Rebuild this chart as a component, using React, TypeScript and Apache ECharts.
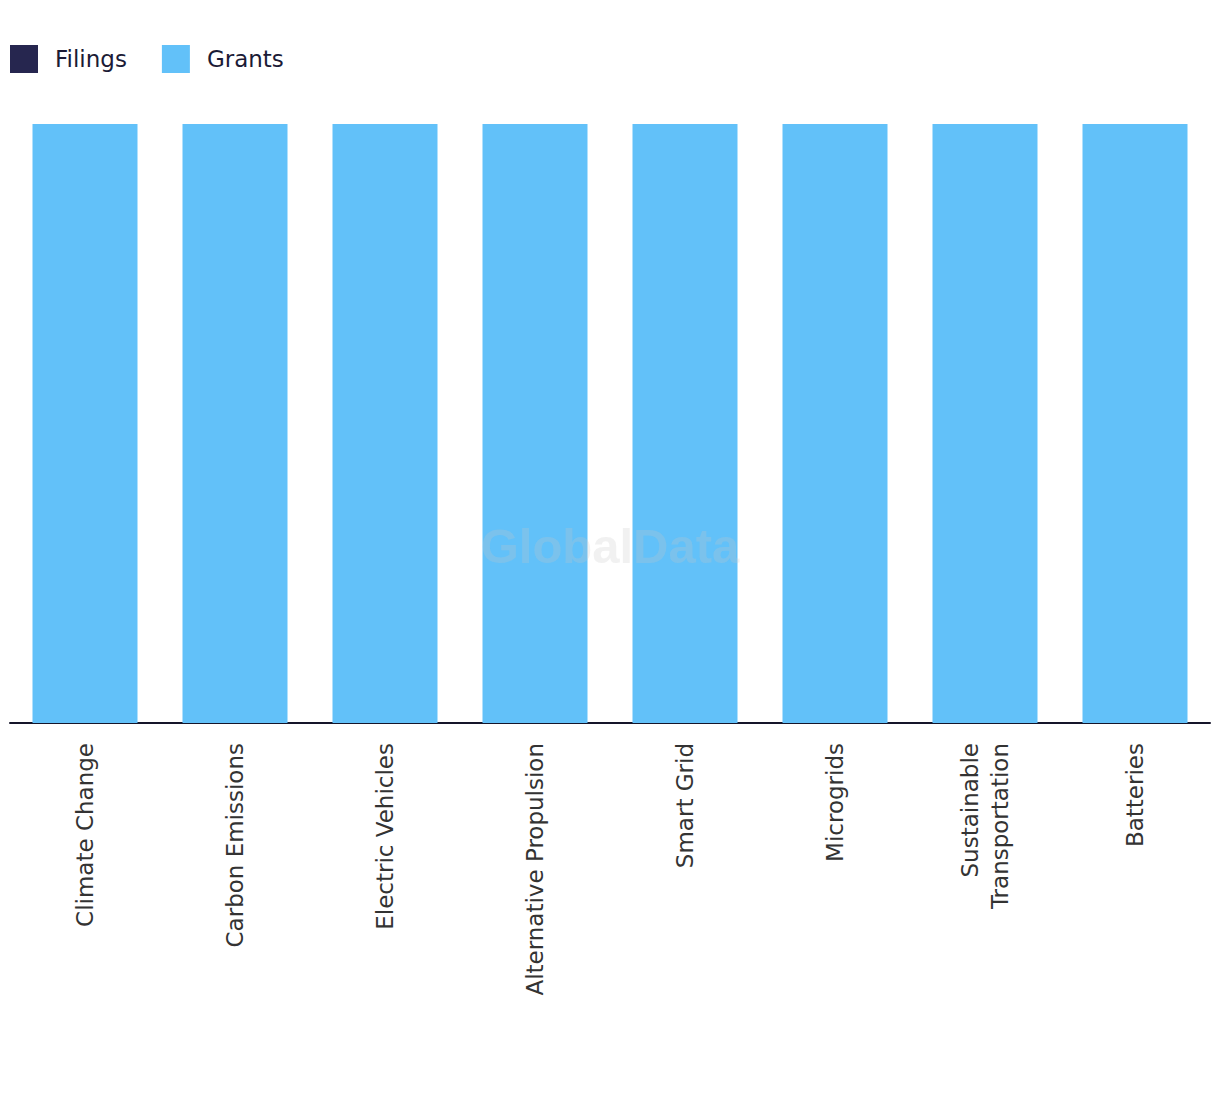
import React, { useEffect, useRef } from "react";
import * as echarts from "echarts";

const categories = [
  "Climate Change",
  "Carbon Emissions",
  "Electric Vehicles",
  "Alternative Propulsion",
  "Smart Grid",
  "Microgrids",
  "Sustainable\nTransportation",
  "Batteries",
];
const filings = [0, 0, 0, 0, 0, 0, 0, 0];
const grants = [100, 100, 100, 100, 100, 100, 100, 100];

const FONT = "DejaVu Sans";

export default function App() {
  const ref = useRef<HTMLDivElement>(null);
  useEffect(() => {
    if (!ref.current) return;
    const chart = echarts.init(ref.current, null, { renderer: "svg" });
    chart.setOption({
      animation: false,
      legend: {
        left: 5,
        top: 40,
        itemWidth: 28,
        itemHeight: 28,
        itemGap: 35,
        icon: "rect",
        textStyle: { fontFamily: FONT, fontSize: 23, color: "#1b1b36", padding: [0, 0, 0, 12] },
        data: ["Filings", "Grants"],
      },
      grid: { left: 10, right: 10, top: 124, bottom: 371, containLabel: false },
      xAxis: {
        type: "category",
        data: categories,
        axisLine: { show: true, lineStyle: { color: "#15152a", width: 2 } },
        axisTick: { show: false },
        axisLabel: {
          rotate: 90,
          interval: 0,
          margin: 20,
          fontFamily: FONT,
          fontSize: 23,
          color: "#333333",
          lineHeight: 30,
          align: "right",
          verticalAlign: "middle",
        },
      },
      yAxis: { type: "value", min: 0, max: 100, show: false, splitLine: { show: false } },
      graphic: [
        {
          type: "text",
          left: "center",
          top: 521,
          z: 100,
          style: {
            text: "GlobalData",
            fontFamily: "Liberation Sans",
            fontWeight: "bold",
            fontSize: 49,
            fill: "rgba(200,200,200,0.25)",
          },
        },
      ],
      series: [
        {
          name: "Filings",
          type: "bar",
          stack: "total",
          barWidth: "70%",
          itemStyle: { color: "#26264f" },
          data: filings,
        },
        {
          name: "Grants",
          type: "bar",
          stack: "total",
          barWidth: "70%",
          itemStyle: { color: "#62c1f9" },
          data: grants,
        },
      ],
    });
    return () => chart.dispose();
  }, []);
  return <div ref={ref} style={{ width: 1220, height: 1094, margin: -8 }} />;
}
